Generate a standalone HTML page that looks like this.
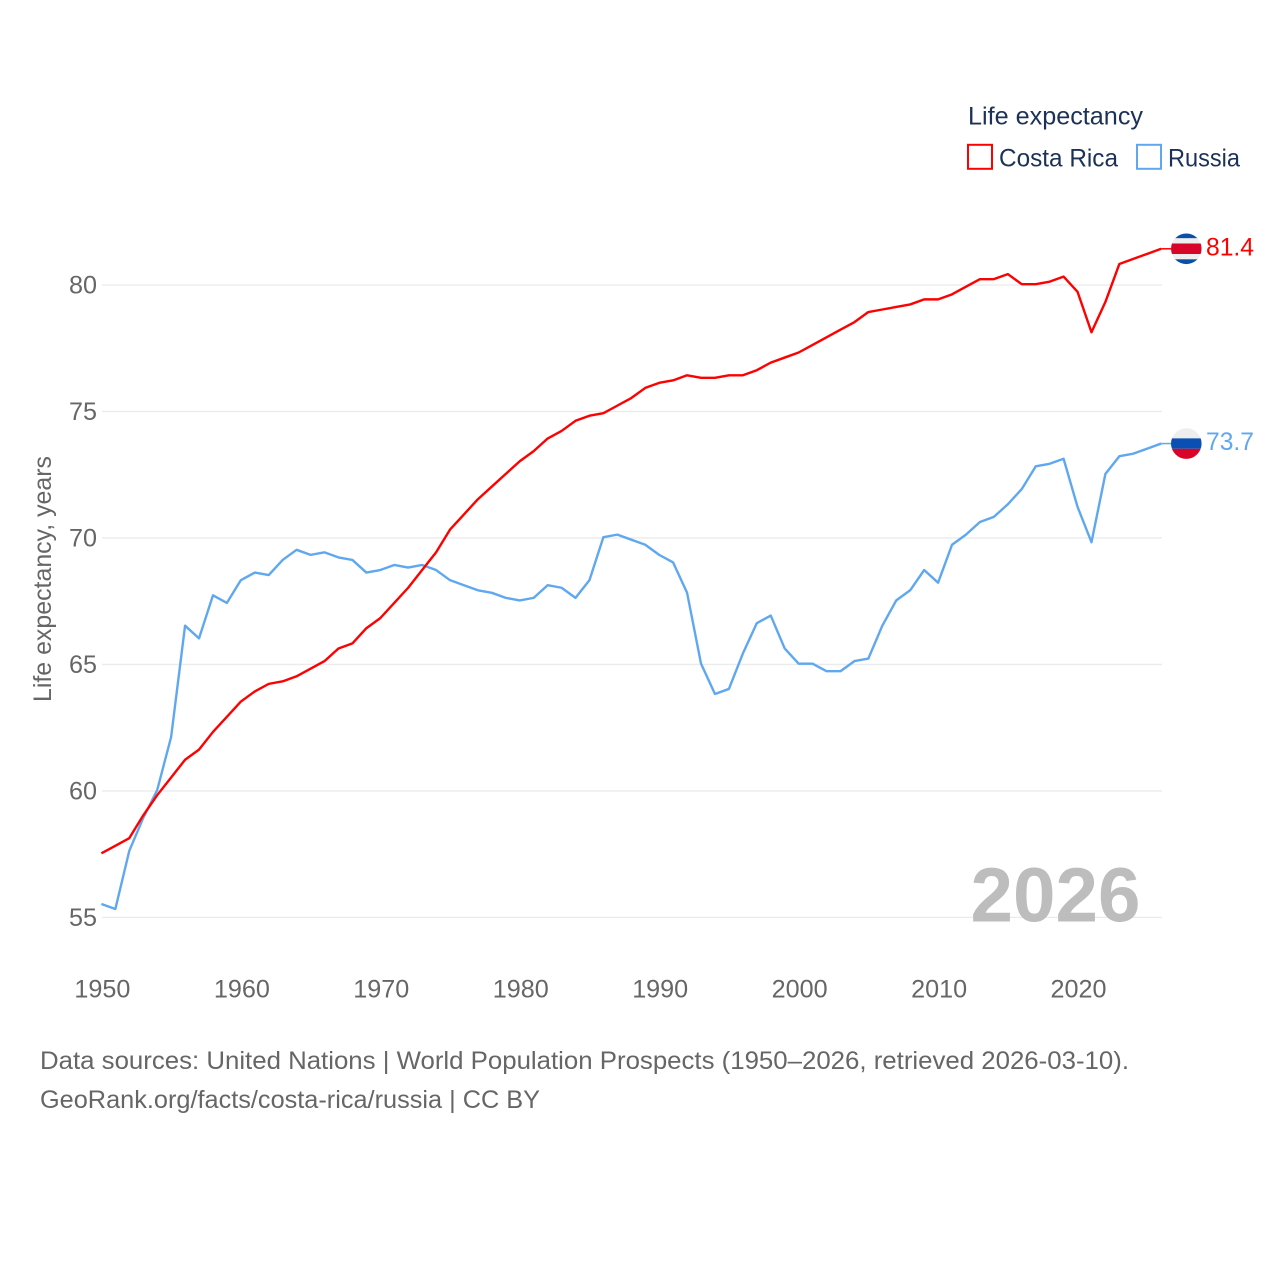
<!DOCTYPE html>
<html lang="en">
<head>
<meta charset="utf-8">
<title>Life expectancy: Costa Rica vs Russia</title>
<style>
html,body{margin:0;padding:0;background:#fff;width:1280px;height:1280px;overflow:hidden}
svg{display:block}
text{font-family:"Liberation Sans",sans-serif}
</style>
</head>
<body>
<svg id="chart" xmlns="http://www.w3.org/2000/svg" width="1280" height="1280" viewBox="0 0 1280 1280">
  <rect x="0" y="0" width="1280" height="1280" fill="#ffffff"/>
  <g id="grid"></g>
  <text x="970.5" y="921.3" font-size="77" font-weight="700" fill="#bdbdbd" textLength="170" lengthAdjust="spacingAndGlyphs">2026</text>
  <g id="y-ticks"></g>
  <g id="x-ticks"></g>
  <text transform="translate(51 702) rotate(-90)" x="0" y="0" font-size="25" fill="#666666" textLength="246" lengthAdjust="spacingAndGlyphs">Life expectancy, years</text>
  <g id="series"></g>
  <g id="end-markers"></g>
  <g>
    <text x="968" y="124.5" font-size="25" fill="#1b3157" textLength="175" lengthAdjust="spacingAndGlyphs">Life expectancy</text>
    <g>
      <rect x="968" y="144.8" width="24" height="24" fill="#ffffff" stroke="#ff0000" stroke-width="2"/>
      <text x="999" y="166.3" font-size="25" fill="#1b3157" textLength="119" lengthAdjust="spacingAndGlyphs">Costa Rica</text>
    </g>
    <g>
      <rect x="1137" y="144.8" width="24" height="24" fill="#ffffff" stroke="#5fa8f0" stroke-width="2"/>
      <text x="1168" y="166.3" font-size="25" fill="#1b3157" textLength="72" lengthAdjust="spacingAndGlyphs">Russia</text>
    </g>
  </g>
  <text x="40" y="1069" font-size="25" fill="#666666" textLength="1089" lengthAdjust="spacingAndGlyphs">Data sources: United Nations | World Population Prospects (1950–2026, retrieved 2026-03-10).</text>
  <text x="40" y="1108" font-size="25" fill="#666666" textLength="500" lengthAdjust="spacingAndGlyphs">GeoRank.org/facts/costa-rica/russia | CC BY</text>
</svg>
<script>
const years = [1950,1951,1952,1953,1954,1955,1956,1957,1958,1959,1960,1961,1962,1963,1964,1965,1966,1967,1968,1969,1970,1971,1972,1973,1974,1975,1976,1977,1978,1979,1980,1981,1982,1983,1984,1985,1986,1987,1988,1989,1990,1991,1992,1993,1994,1995,1996,1997,1998,1999,2000,2001,2002,2003,2004,2005,2006,2007,2008,2009,2010,2011,2012,2013,2014,2015,2016,2017,2018,2019,2020,2021,2022,2023,2024,2025,2026];
const costaRica = [57.5,57.8,58.1,59.0,59.8,60.5,61.2,61.6,62.3,62.9,63.5,63.9,64.2,64.3,64.5,64.8,65.1,65.6,65.8,66.4,66.8,67.4,68.0,68.7,69.4,70.3,70.9,71.5,72.0,72.5,73.0,73.4,73.9,74.2,74.6,74.8,74.9,75.2,75.5,75.9,76.1,76.2,76.4,76.3,76.3,76.4,76.4,76.6,76.9,77.1,77.3,77.6,77.9,78.2,78.5,78.9,79.0,79.1,79.2,79.4,79.4,79.6,79.9,80.2,80.2,80.4,80.0,80.0,80.1,80.3,79.7,78.1,79.3,80.8,81.0,81.2,81.4];
const russia = [55.5,55.3,57.6,58.9,60.0,62.1,66.5,66.0,67.7,67.4,68.3,68.6,68.5,69.1,69.5,69.3,69.4,69.2,69.1,68.6,68.7,68.9,68.8,68.9,68.7,68.3,68.1,67.9,67.8,67.6,67.5,67.6,68.1,68.0,67.6,68.3,70.0,70.1,69.9,69.7,69.3,69.0,67.8,65.0,63.8,64.0,65.4,66.6,66.9,65.6,65.0,65.0,64.7,64.7,65.1,65.2,66.5,67.5,67.9,68.7,68.2,69.7,70.1,70.6,70.8,71.3,71.9,72.8,72.9,73.1,71.2,69.8,72.5,73.2,73.3,73.5,73.7];
const yTicks = [55,60,65,70,75,80];
const xTicks = [1950,1960,1970,1980,1990,2000,2010,2020];

const NS = 'http://www.w3.org/2000/svg';
const xScale = function (year) { return 101.4 + (year - 1950) * (1161.2 - 101.4) / 76; };
const yScale = function (v) { return 917.4 - (v - 55) * (917.4 - 285) / 25; };
const lineY = function (v) { return yScale(v) - 0.8; };
const make = function (tag, attrs, parent) {
  const el = document.createElementNS(NS, tag);
  Object.keys(attrs).forEach(function (k) { el.setAttribute(k, attrs[k]); });
  parent.appendChild(el);
  return el;
};

const grid = document.getElementById('grid');
const yG = document.getElementById('y-ticks');
const xG = document.getElementById('x-ticks');
const seriesG = document.getElementById('series');
const endG = document.getElementById('end-markers');

yTicks.forEach(function (t) {
  const line = make('line', {x1: 102, x2: 1162, y1: yScale(t), y2: yScale(t), stroke: '#ebebeb', 'stroke-width': 1.3}, grid);
  
  
  const label = make('text', {x: 97, y: yScale(t) + 8.5, 'text-anchor': 'end', 'font-size': 25, fill: '#666666', textLength: 28, lengthAdjust: 'spacingAndGlyphs'}, yG);
  label.textContent = String(t);
  
  
});

xTicks.forEach(function (t) {
  const label = make('text', {x: xScale(t) + 1, y: 997.5, 'text-anchor': 'middle', 'font-size': 25, fill: '#666666', textLength: 56, lengthAdjust: 'spacingAndGlyphs'}, xG);
  label.textContent = String(t);
  
  
});

const linePath = function (values) {
  return values.map(function (v, i) {
    return (i ? 'L' : 'M') + xScale(years[i]).toFixed(2) + ' ' + lineY(v).toFixed(2);
  }).join(' ');
};

const russiaLine = make('path', {d: linePath(russia), fill: 'none', stroke: '#5fa8f0', 'stroke-width': 2.4, 'stroke-linejoin': 'round'}, seriesG);


const costaLine = make('path', {d: linePath(costaRica), fill: 'none', stroke: '#ff0000', 'stroke-width': 2.4, 'stroke-linejoin': 'round'}, seriesG);



const lastX = xScale(years[years.length - 1]);
const flagX = 1186.3;
const R = 15.3;

const drawFlag = function (id, cy, stripes) {
  const clip = make('clipPath', {id: id}, endG);
  make('circle', {cx: flagX, cy: cy, r: R}, clip);
  const g = make('g', {'clip-path': 'url(#' + id + ')'}, endG);
  stripes.forEach(function (s) {
    make('rect', {x: flagX - R, y: cy + s[0], width: R * 2, height: s[1] - s[0], fill: s[2]}, g);
  });
  return g;
};

const crValue = costaRica[costaRica.length - 1];
const crY = lineY(crValue);
const crStub = make('line', {x1: lastX, x2: flagX - R, y1: crY, y2: crY, stroke: '#ff0000', 'stroke-width': 1.5}, endG);


const crFlag = drawFlag('clip-cr', crY, [[-16, -10.5, '#0a4fa8'], [-10.5, -5.3, '#eeeeee'], [-5.3, 5.3, '#d90429'], [5.3, 10.5, '#eeeeee'], [10.5, 16, '#0a4fa8']]);


const crLabel = make('text', {x: 1206, y: crY + 6.5, 'font-size': 25, fill: '#ff0000', textLength: 48, lengthAdjust: 'spacingAndGlyphs'}, endG);
crLabel.textContent = crValue.toFixed(1);



const ruValue = russia[russia.length - 1];
const ruY = lineY(ruValue);
const ruStub = make('line', {x1: lastX, x2: flagX - R, y1: ruY, y2: ruY, stroke: '#5fa8f0', 'stroke-width': 1.5}, endG);


const ruFlag = drawFlag('clip-ru', ruY, [[-16, -5.2, '#eeeeee'], [-5.2, 5.2, '#0a4fb4'], [5.2, 16, '#d90429']]);


const ruLabel = make('text', {x: 1206, y: ruY + 6.5, 'font-size': 25, fill: '#5fa8f0', textLength: 48, lengthAdjust: 'spacingAndGlyphs'}, endG);
ruLabel.textContent = ruValue.toFixed(1);


</script>
</body>
</html>
